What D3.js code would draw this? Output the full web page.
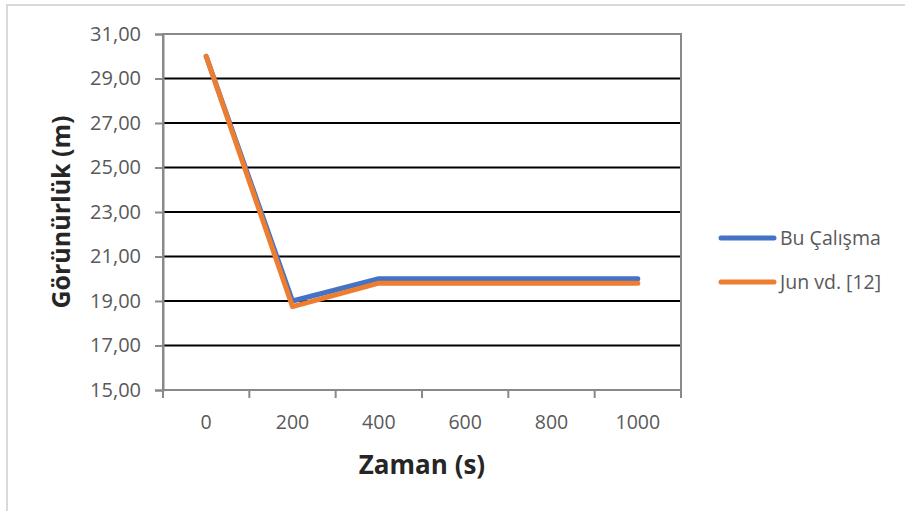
<!DOCTYPE html>
<html lang="tr">
<head>
  <meta charset="UTF-8" />
  <title>Görünürlük</title>
  <script src="https://d3js.org/d3.v7.min.js"></script>
  <style>
    body { margin: 0; background: white; font-family: "Open Sans", sans-serif; }
    svg text { font-family: "Open Sans", sans-serif; }
  </style>
</head>
<body>
  <svg width="905" height="511"></svg>

  <script>
    const zaman = ["0", "200", "400", "600", "800", "1000"];
    const buCalisma = [30, 19, 20, 20, 20, 20];
    const jun = [30, 18.75, 19.8, 19.8, 19.8, 19.8];
    const yTicks = [15, 17, 19, 21, 23, 25, 27, 29, 31];

    const seriler = [
      { ad: "Bu Çalışma", renk: "#4472C4", degerler: buCalisma },
      { ad: "Jun vd. [12]", renk: "#ED7D31", degerler: jun }
    ];

    const svg = d3.select("svg");
    const sol = 163, sag = 681, ust = 34, alt = 390;

    // dis cerceve (sadece ust ve sol gorunuyor)
    svg.append("path")
      .attr("d", "M7,511 V5 H905")
      .attr("fill", "none")
      .attr("stroke", "#d9d9d9")
      .attr("stroke-width", 2);

    const x = d3.scaleBand().domain(zaman).range([sol, sag]);
    const y = d3.scaleLinear().domain([15, 31]).range([alt, ust]);

    // izgara cizgileri
    svg.append("g")
      .selectAll("line")
      .data(yTicks.slice(1, -1))
      .join("line")
      .attr("x1", sol).attr("x2", sag)
      .attr("y1", d => y(d)).attr("y2", d => y(d))
      .attr("stroke", "#000")
      .attr("stroke-width", 2);

    // cizim alani kenarlari
    svg.append("rect")
      .attr("x", sol).attr("y", ust)
      .attr("width", sag - sol).attr("height", alt - ust)
      .attr("fill", "none")
      .attr("stroke", "#898989")
      .attr("stroke-width", 2);

    // y ekseni
    const yEksen = svg.append("g")
      .attr("transform", `translate(${sol},0)`)
      .call(d3.axisLeft(y).tickValues(yTicks).tickSize(8).tickPadding(14)
        .tickFormat(d => d3.format(".2f")(d).replace(".", ",")));
    yEksen.select(".domain").attr("stroke", "#898989").attr("stroke-width", 2);
    yEksen.selectAll(".tick line").attr("stroke", "#898989").attr("stroke-width", 2);
    yEksen.selectAll(".tick text")
      .attr("fill", "#595959")
      .attr("font-size", "20px");

    // x ekseni
    const xEksen = svg.append("g")
      .attr("transform", `translate(0,${alt})`)
      .call(d3.axisBottom(x).tickSize(0).tickPadding(25));
    xEksen.select(".domain").remove();
    xEksen.selectAll(".tick text")
      .attr("fill", "#595959")
      .attr("font-size", "19.5px");
    // kategori sinirlarindaki tik isaretleri
    const sinirlar = zaman.map(d => x(d)).concat([x(zaman[zaman.length - 1]) + x.bandwidth()]);
    svg.append("g")
      .selectAll("line")
      .data(sinirlar)
      .join("line")
      .attr("x1", d => d).attr("x2", d => d)
      .attr("y1", alt).attr("y2", alt + 8)
      .attr("stroke", "#898989")
      .attr("stroke-width", 2);

    // eksen basliklari
    svg.append("text")
      .attr("x", (sol + sag) / 2)
      .attr("y", 474)
      .attr("text-anchor", "middle")
      .attr("font-size", "26px")
      .attr("font-weight", "bold")
      .attr("fill", "#262626")
      .text("Zaman (s)");

    svg.append("text")
      .attr("transform", `translate(70,${(ust + alt) / 2}) rotate(-90)`)
      .attr("text-anchor", "middle")
      .attr("font-size", "25px")
      .attr("font-weight", "bold")
      .attr("fill", "#262626")
      .text("Görünürlük (m)");

    // cizgiler
    const cizgi = d3.line()
      .x((d, i) => x(zaman[i]) + x.bandwidth() / 2)
      .y(d => y(d));

    svg.append("g")
      .selectAll("path")
      .data(seriler)
      .join("path")
      .attr("d", d => cizgi(d.degerler))
      .attr("fill", "none")
      .attr("stroke", d => d.renk)
      .attr("stroke-width", 5)
      .attr("stroke-linecap", "round")
      .attr("stroke-linejoin", "round");

    // lejant
    const lejant = svg.append("g")
      .selectAll("g")
      .data(seriler)
      .join("g")
      .attr("transform", (d, i) => `translate(721,${238 + i * 44})`);
    lejant.append("line")
      .attr("x1", 0).attr("x2", 53)
      .attr("stroke", d => d.renk)
      .attr("stroke-width", 5)
      .attr("stroke-linecap", "round");
    lejant.append("text")
      .attr("x", 59)
      .attr("dy", "0.35em")
      .attr("fill", "#595959")
      .attr("font-size", "19.5px")
      .text(d => d.ad);
  </script>
</body>
</html>
